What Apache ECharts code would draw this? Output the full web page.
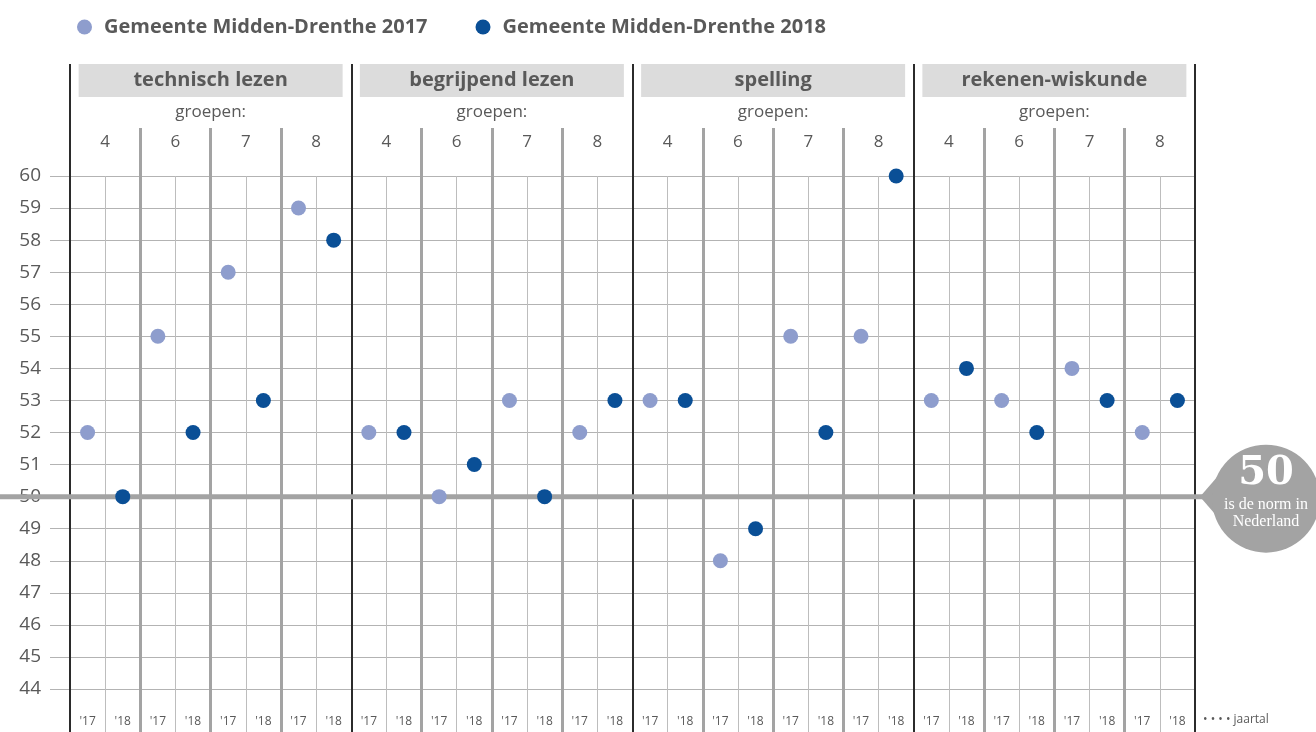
<!DOCTYPE html>
<html>
<head>
<meta charset="utf-8">
<script src="https://cdn.jsdelivr.net/npm/echarts@6/dist/echarts.min.js"></script>
<style>
  html, body { margin: 0; padding: 0; background: #fff; }
  #chart { width: 1316px; height: 732px; }
</style>
</head>
<body>
<div id="chart"></div>
<script>
// data
const subjects = ['technisch lezen', 'begrijpend lezen', 'spelling', 'rekenen-wiskunde']
const groups = ['4', '6', '7', '8']
const years = ["'17", "'18"]
const seriesNames = ['Gemeente Midden-Drenthe 2017', 'Gemeente Midden-Drenthe 2018']
// per subject, per group
const scores2017 = [52, 55, 57, 59, 52, 50, 53, 52, 53, 48, 55, 55, 53, 53, 54, 52]
const scores2018 = [50, 52, 53, 58, 52, 51, 50, 53, 53, 49, 52, 60, 54, 52, 53, 53]
const yTicks = [44, 60]
const norm = 50

const groupCats = []
subjects.forEach(() => groups.forEach(g => groupCats.push(g)))
const yearCats = []
groupCats.forEach(() => years.forEach(y => yearCats.push(y)))

const data2017 = scores2017.map((v, i) => [i * 2, v])
const data2018 = scores2018.map((v, i) => [i * 2 + 1, v])

const textColor = '#595959'
const font = '"Open Sans", "Noto Sans", sans-serif'

const chart = echarts.init(document.getElementById('chart'))

const option = {
  animation: false,
  legend: {
    left: 72,
    top: 12,
    itemWidth: 15,
    itemHeight: 15,
    itemGap: 48,
    icon: 'circle',
    textStyle: { fontFamily: font, fontSize: 20, fontWeight: 'bold', color: textColor, padding: [0, 0, 0, 7] },
    data: seriesNames
  },
  grid: [
    { left: 70, right: 121, top: 176, bottom: 43 },  // data
    { left: 70, right: 121, top: 64, bottom: 0 },    // subjects
    { left: 70, right: 121, top: 128, bottom: 0 },   // groups
    { left: 70, right: 121, top: 176, bottom: 0 }    // years
  ],
  xAxis: [
    {
      gridIndex: 0, type: 'category', data: yearCats, boundaryGap: true,
      axisLine: { show: false }, axisTick: { show: false }, axisLabel: { show: false }, splitLine: { show: false }
    },
    {
      gridIndex: 1, type: 'category', data: subjects, position: 'top', z: 5,
      axisLine: { show: false }, axisTick: { show: false },
      splitLine: { show: true, lineStyle: { color: '#2b2b2b', width: 2 } },
      axisLabel: {
        inside: true, margin: 0, interval: 0, verticalAlign: 'top',
        formatter: v => '{h|' + v + '}\n{g|groepen:}',
        rich: {
          h: { fontFamily: font, fontSize: 20, fontWeight: 'bold', color: textColor, backgroundColor: '#dcdcdc', width: 264, height: 33, lineHeight: 33, align: 'center' },
          g: { fontFamily: font, fontSize: 17, color: textColor, lineHeight: 30, align: 'center' }
        }
      }
    },
    {
      gridIndex: 2, type: 'category', data: groupCats, position: 'top', z: 4,
      axisLine: { show: false }, axisTick: { show: false },
      splitLine: { show: true, lineStyle: { color: ['rgba(0,0,0,0)', '#a3a3a3', '#a3a3a3', '#a3a3a3'], width: 3 } },
      axisLabel: { inside: true, margin: 6, interval: 0, verticalAlign: 'top', fontFamily: font, fontSize: 17, color: textColor }
    },
    {
      gridIndex: 3, type: 'category', data: yearCats, position: 'bottom', z: 3,
      axisLine: { show: false }, axisTick: { show: false },
      splitLine: { show: true, lineStyle: { color: ['rgba(0,0,0,0)', '#bdbdbd'], width: 1 } },
      axisLabel: { inside: true, margin: 4, interval: 0, fontFamily: font, fontSize: 12, color: textColor }
    }
  ],
  yAxis: [
    {
      gridIndex: 0, type: 'value', min: yTicks[0], max: yTicks[1], interval: 1,
      axisLine: { show: false },
      axisTick: { show: true, length: 20, lineStyle: { color: '#b3b3b3' } },
      axisLabel: { margin: 29, fontFamily: font, fontSize: 19, color: textColor },
      splitLine: { lineStyle: { color: '#b3b3b3', width: 1 } }
    },
    { gridIndex: 1, type: 'value', show: false },
    { gridIndex: 2, type: 'value', show: false },
    { gridIndex: 3, type: 'value', show: false }
  ],
  series: [
    {
      name: seriesNames[0], type: 'scatter', xAxisIndex: 0, yAxisIndex: 0,
      symbolSize: 15, itemStyle: { color: '#8e9dcd', opacity: 1 }, z: 10,
      data: data2017
    },
    {
      name: seriesNames[1], type: 'scatter', xAxisIndex: 0, yAxisIndex: 0,
      symbolSize: 15, itemStyle: { color: '#0a4f96', opacity: 1 }, z: 10,
      data: data2018
    }
  ]
}

chart.setOption(option)

// norm line and bubble, placed through the y scale
const yNorm = chart.convertToPixel({ yAxisIndex: 0 }, norm)
const cx = 1266, r = 54
chart.setOption({
  graphic: [
    { type: 'rect', z: 6, shape: { x: 0, y: yNorm - 2.5, width: 1215, height: 5 }, style: { fill: '#a3a3a3' } },
    { type: 'polygon', z: 6, shape: { points: [[1200, yNorm], [cx - 40, yNorm - 30], [cx - 40, yNorm + 30]] }, style: { fill: '#a3a3a3' } },
    { type: 'circle', z: 6, shape: { cx: cx, cy: yNorm + 2, r: r }, style: { fill: '#a3a3a3' } },
    { type: 'text', z: 7, x: cx, y: yNorm - 23, style: { text: String(norm), fill: '#fff', font: 'bold 40px "DejaVu Serif", serif', align: 'center', verticalAlign: 'middle' } },
    { type: 'text', z: 7, x: cx, y: yNorm + 8, style: { text: 'is de norm in', fill: '#fff', font: '16px "Liberation Serif", serif', align: 'center', verticalAlign: 'middle' } },
    { type: 'text', z: 7, x: cx, y: yNorm + 25, style: { text: 'Nederland', fill: '#fff', font: '16px "Liberation Serif", serif', align: 'center', verticalAlign: 'middle' } },
    { type: 'text', z: 7, x: 1203, y: 720, style: { text: '• • • • jaartal', fill: textColor, font: '12px "Open Sans", sans-serif', verticalAlign: 'middle' } }
  ]
})

window.onresize = function () {
  chart.resize()
}
</script>
</body>
</html>
